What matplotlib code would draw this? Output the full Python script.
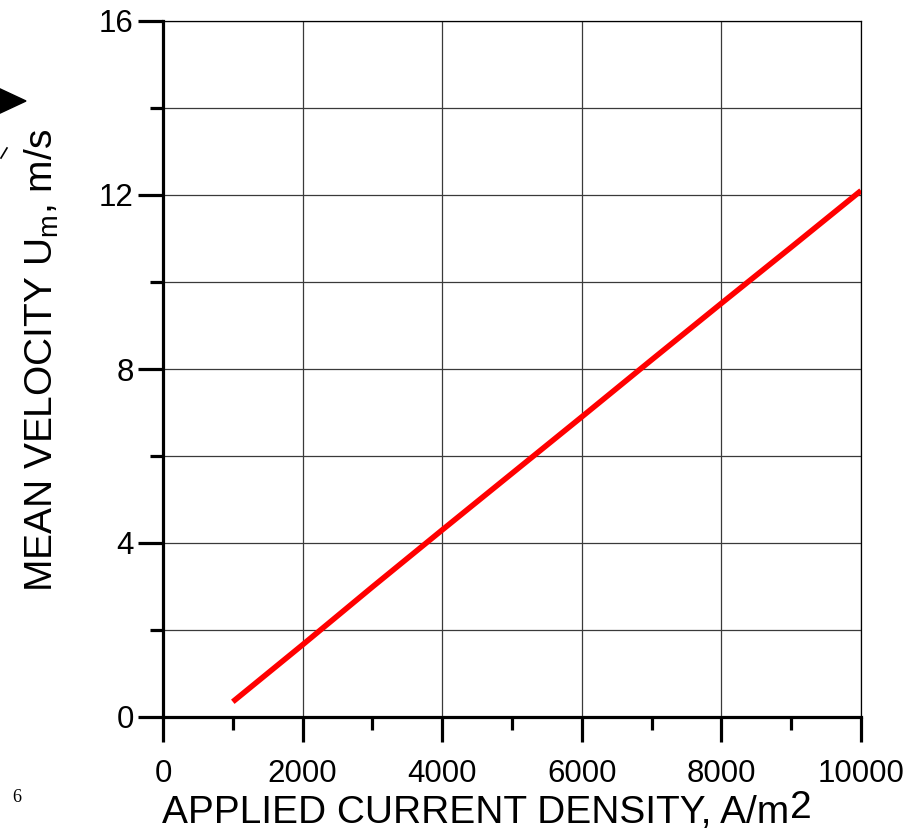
import matplotlib
matplotlib.use('Agg')
import matplotlib.pyplot as plt
from matplotlib.ticker import MultipleLocator
from matplotlib.patches import Polygon

plt.rcParams['font.family'] = ['Liberation Sans', 'DejaVu Sans']
plt.rcParams['mathtext.fontset'] = 'custom'
plt.rcParams['mathtext.rm'] = 'Liberation Sans'
plt.rcParams['mathtext.default'] = 'regular'

# datos
densidad = [1000, 2000, 3000, 4000, 5000, 6000, 7000, 8000, 9000, 10000]
velocidad = [0.35, 1.66, 2.99, 4.30, 5.60, 6.90, 8.21, 9.51, 10.80, 12.10]

W, H = 922, 831
fig = plt.figure(figsize=(W / 100, H / 100), dpi=100)
ax = fig.add_axes([163 / W, 1 - 717 / H, 698 / W, 696 / H])

ax.plot(densidad, velocidad, color='red', linewidth=4, solid_capstyle='butt', zorder=3)

ax.set_xlim(0, 10000)
ax.set_ylim(0, 16)
ax.xaxis.set_major_locator(MultipleLocator(2000))
ax.xaxis.set_minor_locator(MultipleLocator(1000))
ax.yaxis.set_major_locator(MultipleLocator(4))
ax.yaxis.set_minor_locator(MultipleLocator(2))

ax.grid(True, which='major', axis='x', color='#3a3a3a', linewidth=0.9)
ax.grid(True, which='both', axis='y', color='#3a3a3a', linewidth=0.9)

for s in ['left', 'bottom']:
    ax.spines[s].set_linewidth(2.3)
for s in ['top', 'right']:
    ax.spines[s].set_linewidth(0.9)

ax.tick_params(which='major', direction='out', length=18, width=2.3, labelsize=22.5)
ax.tick_params(which='minor', direction='out', length=9.5, width=2.3)
ax.tick_params(axis='x', which='major', pad=12)
ax.tick_params(axis='y', which='major', pad=3)

# etiquetas de ejes
xl = fig.text(162 / W, 8 / H, 'APPLIED CURRENT DENSITY, A/m', fontsize=28,
              ha='left', va='baseline')
fig.text(42 / W, 1 - 360 / H, r'MEAN VELOCITY U$_{\mathrm{m}}$, m/s',
         fontsize=28, rotation=90, ha='center', va='center')

# el "2" de m2 va pegado al final del titulo
fig.canvas.draw()
bb = xl.get_window_extent()
fig.text(bb.x1 / W + 0.001, 13 / H, '2', fontsize=28, ha='left', va='baseline')

# restos de la pagina original
fig.text(0.013, 0.035, '6', fontsize=13, family='Liberation Serif')
tri = Polygon([[-4 / W, 1 - 87 / H], [26 / W, 1 - 101 / H], [-4 / W, 1 - 115 / H]],
              closed=True, color='black', transform=fig.transFigure)
fig.patches.append(tri)
fig.add_artist(plt.Line2D([1 / W, 7 / W], [1 - 158 / H, 1 - 148 / H], color='black',
                          linewidth=1.2, transform=fig.transFigure))

plt.savefig('out.png', dpi=100)
plt.close()
